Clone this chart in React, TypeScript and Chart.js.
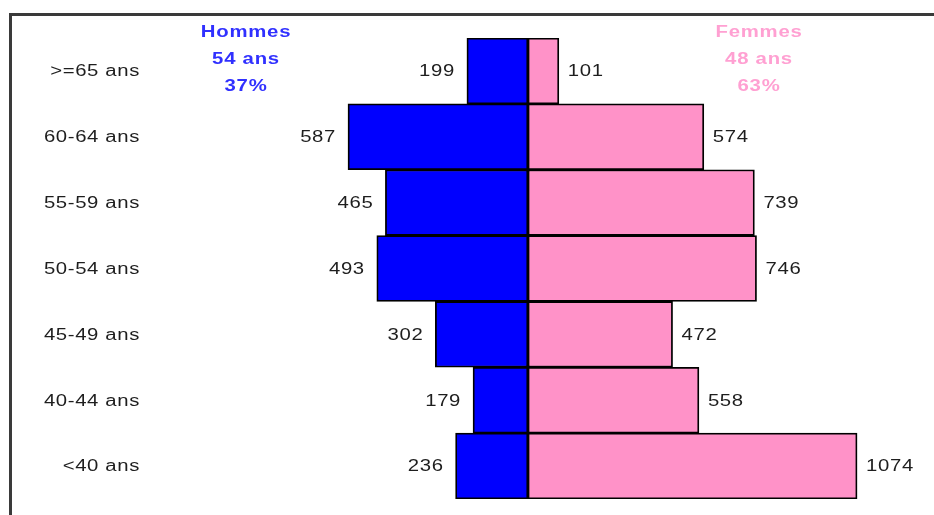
import { useEffect, useRef } from "react";
import { Chart, registerables } from "chart.js";

Chart.register(...registerables);

const ageGroups = [">=65 ans", "60-64 ans", "55-59 ans", "50-54 ans", "45-49 ans", "40-44 ans", "<40 ans"];
const hommes = [199, 587, 465, 493, 302, 179, 236];
const femmes = [101, 574, 739, 746, 472, 558, 1074];
const hommesHeader = ["Hommes", "54 ans", "37%"];
const femmesHeader = ["Femmes", "48 ans", "63%"];

const FONT = '"Liberation Sans", Arial, sans-serif';
const BLUE = "#0000ff";
const PINK = "#ff92c8";
const SX = 1.27;

function stretchedText(ctx: any, text: string, x: number, y: number, align: string, spacing: number) {
  ctx.save();
  ctx.translate(x, y);
  ctx.scale(SX, 1);
  ctx.letterSpacing = spacing + "px";
  ctx.textAlign = align;
  ctx.textBaseline = "middle";
  ctx.fillText(text, 0, 0);
  ctx.restore();
}

export default function App() {
  const ref = useRef<HTMLCanvasElement>(null);

  useEffect(() => {
    if (!ref.current) return;

    const frame = {
      id: "frame",
      beforeDraw(c: any) {
        const ctx = c.ctx;
        ctx.save();
        ctx.fillStyle = "#ffffff";
        ctx.fillRect(0, 0, c.width, c.height);
        ctx.fillStyle = "#3a3a3a";
        ctx.fillRect(9, 13, c.width - 9, 3);
        ctx.fillRect(9, 13, 3, c.height - 13);
        ctx.restore();
      },
    };

    const categoryLabels = {
      id: "categoryLabels",
      afterDraw(c: any) {
        const ctx = c.ctx;
        const ys = c.scales.y;
        ctx.save();
        ctx.font = `16px ${FONT}`;
        ctx.fillStyle = "#1e1e1e";
        ageGroups.forEach((g, i) => {
          stretchedText(ctx, g, ys.right - 10, ys.getPixelForValue(i) + 1, "right", 0.5);
        });
        ctx.restore();
      },
    };

    const headers = {
      id: "headers",
      afterDraw(c: any) {
        const ctx = c.ctx;
        ctx.save();
        ctx.font = `bold 16px ${FONT}`;
        const ys = [33, 60, 87];
        ctx.fillStyle = "#3030ff";
        hommesHeader.forEach((t, i) => stretchedText(ctx, t, 246, ys[i], "center", 0.6));
        ctx.fillStyle = "#ffa0d2";
        femmesHeader.forEach((t, i) => stretchedText(ctx, t, 759, ys[i], "center", 0.6));
        ctx.restore();
      },
    };

    const valueLabels = {
      id: "valueLabels",
      afterDatasetsDraw(c: any) {
        const ctx = c.ctx;
        ctx.save();
        ctx.font = `16px ${FONT}`;
        ctx.fillStyle = "#1e1e1e";
        const raws = [hommes, femmes];
        c.data.datasets.forEach((_ds: any, i: number) => {
          const meta = c.getDatasetMeta(i);
          meta.data.forEach((bar: any, j: number) => {
            const v = String(raws[i][j]);
            if (i === 0) {
              stretchedText(ctx, v, bar.x - 12, bar.y + 1, "right", 0.5);
            } else {
              stretchedText(ctx, v, bar.x + 9, bar.y + 1, "left", 0.5);
            }
          });
        });
        ctx.restore();
      },
    };

    const chart = new Chart(ref.current, {
      type: "bar",
      data: {
        labels: ageGroups,
        datasets: [
          {
            label: "Hommes",
            data: hommes.map((v) => -v),
            backgroundColor: BLUE,
            borderColor: "#000000",
            borderWidth: 1.8,
            borderSkipped: false,
            barPercentage: 1,
            categoryPercentage: 1,
          },
          {
            label: "Femmes",
            data: femmes,
            backgroundColor: PINK,
            borderColor: "#000000",
            borderWidth: 1.8,
            borderSkipped: false,
            barPercentage: 1,
            categoryPercentage: 1,
          },
        ],
      },
      options: {
        indexAxis: "y",
        animation: false,
        responsive: true,
        maintainAspectRatio: false,
        layout: { padding: { top: 38, bottom: 16, left: 0, right: 0 } },
        plugins: {
          legend: { display: false },
          tooltip: { enabled: false },
        },
        scales: {
          x: {
            display: false,
            stacked: true,
            min: -1233,
            max: 1325,
          },
          y: {
            stacked: true,
            position: "left",
            grid: { display: false, drawTicks: false },
            border: { display: false },
            ticks: { display: false },
            afterFit: (s: any) => {
              s.width = 150;
            },
          },
        },
      },
      plugins: [frame, valueLabels, categoryLabels, headers],
    } as any);

    return () => chart.destroy();
  }, []);

  return (
    <div style={{ position: "fixed", left: 0, top: 0, width: 934, height: 515, background: "#fff" }}>
      <canvas ref={ref} />
    </div>
  );
}
